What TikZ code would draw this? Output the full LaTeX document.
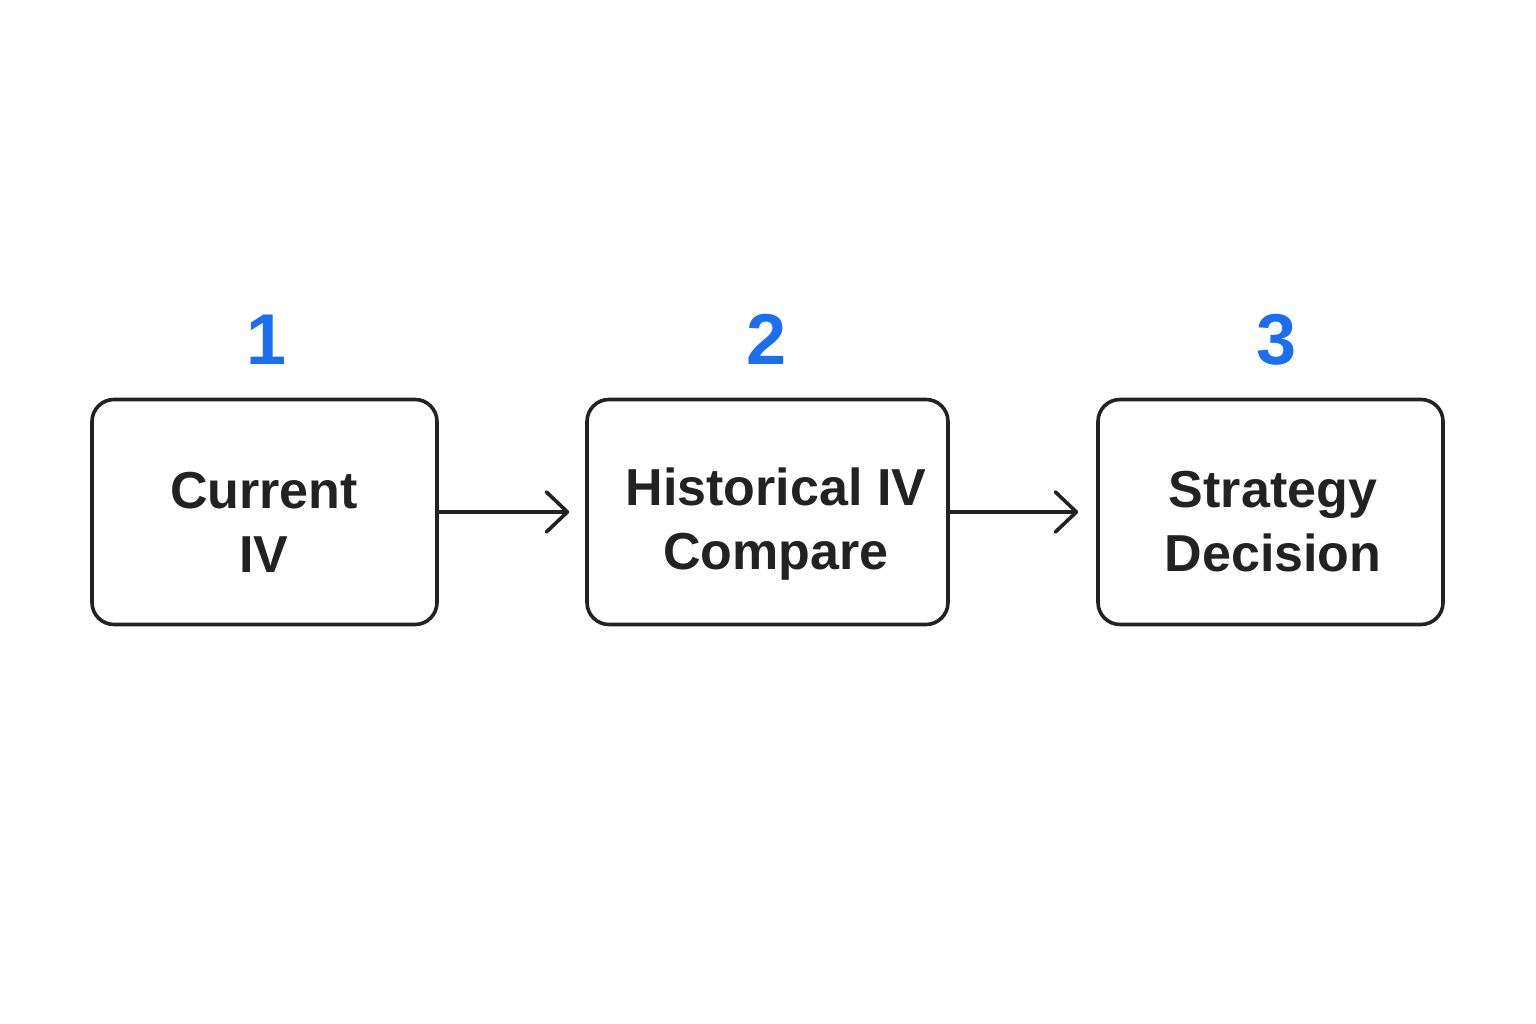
\documentclass[tikz,border=0pt]{standalone}
\usepackage{fontspec}
\setmainfont{Liberation Sans}
\usetikzlibrary{arrows.meta}
\definecolor{numblue}{HTML}{1A6EF0}
\definecolor{ink}{HTML}{222222}
\tikzset{
  stepbox/.style={draw=ink, line width=3.6pt, rounded corners=22pt, fill=white,
    minimum height=225pt, inner sep=0pt},
  steptext/.style={align=center, text=ink, inner sep=0pt,
    font=\fontsize{52}{64}\selectfont\bfseries},
  stepnum/.style={text=numblue, inner sep=0pt, anchor=base,
    font=\fontsize{72}{72}\selectfont\bfseries},
  flow/.style={draw=ink, line width=3.6pt, line cap=round,
    -{Straight Barb[length=21pt,width=40pt,line cap=round,line join=round]}}
}
\begin{document}
\begin{tikzpicture}[x=1pt,y=1pt]
\useasboundingbox (0,0) rectangle (1536,1024);
\fill[white] (0,0) rectangle (1536,1024);
\node[stepbox, minimum width=345pt] (b1) at (264.5,512) {};
\node[stepbox, minimum width=361pt] (b2) at (767.5,512) {};
\node[stepbox, minimum width=345pt] (b3) at (1270.5,512) {};
\node[steptext] (t1) at (264,502) {Current\\IV};
\node[steptext] (t2) at (776,500) {Historical IV\\Compare};
\node[steptext] (t3) at (1273,502) {Strategy\\Decision};
\node[stepnum] (n1) at (267,659) {1};
\node[stepnum] (n2) at (767,659) {2};
\node[stepnum] (n3) at (1277,659) {3};
\draw[flow, shorten >=16pt] (b1.east) -- (b2.west);
\draw[flow, shorten >=18pt] (b2.east) -- (b3.west);
\end{tikzpicture}
\end{document}
